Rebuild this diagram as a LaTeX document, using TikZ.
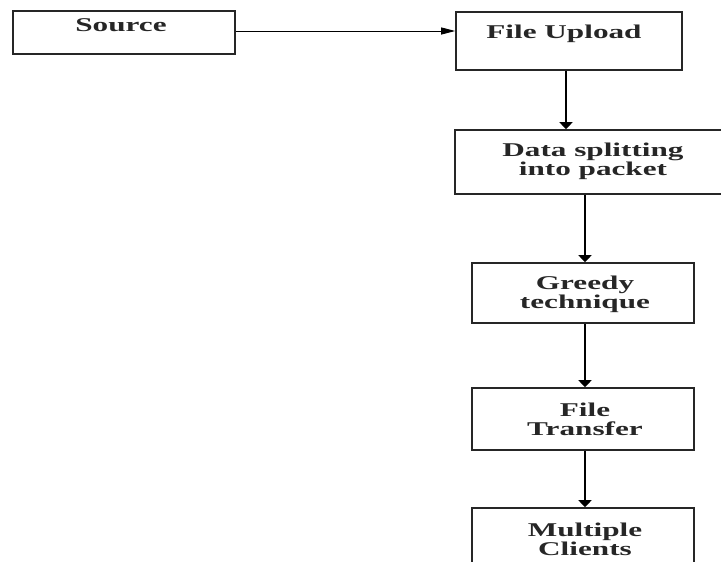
\documentclass[tikz,border=0pt]{standalone}
\usepackage{fontspec}
\newfontfamily\lblfont[FakeStretch=1.6]{Liberation Serif}
\usetikzlibrary{arrows.meta}
\begin{document}
\begin{tikzpicture}[x=1pt,y=-1pt,
  box/.style={draw=black!85,line width=1.6pt,rectangle,inner sep=0pt},
  lbl/.style={font=\lblfont\bfseries\fontsize{19.5}{19}\selectfont,align=center,inner sep=0pt,text=black!85},
  varrow/.style={line width=1.8pt,-{Triangle[length=7pt,width=13pt]}},
  harrow/.style={line width=1pt,-{Triangle[length=14pt,width=7pt]}}]
\useasboundingbox (0,0) rectangle (721,562);
\clip (0,0) rectangle (721,562);
\node[box,minimum width=222pt,minimum height=43pt] (src) at (124,32.5) {};
\node[lbl] (srct) at (121,25.5) {Source};
\node[box,minimum width=226pt,minimum height=58pt] (fu) at (569,41) {};
\node[lbl] (fut) at (564,34) {File Upload};
\node[box,minimum width=275pt,minimum height=64pt] (ds) at (592.5,162) {};
\node[lbl] (dst) at (593,161.5) {Data splitting\\into packet};
\node[box,minimum width=222pt,minimum height=60pt] (gr) at (583,293) {};
\node[lbl] (grt) at (585,294) {Greedy\\technique};
\node[box,minimum width=222pt,minimum height=62pt] (ft) at (583,419) {};
\node[lbl] (ftt) at (585,419) {File\\Transfer};
\node[box,minimum width=222pt,minimum height=66pt] (mc) at (583,541) {};
\node[lbl] (mct) at (585,539) {Multiple\\Clients};
\draw[harrow] ([yshift=1.5pt]src.east) -- ([yshift=1.5pt]src.east -| fu.west);
\draw[varrow] ([xshift=-3pt]fu.south) -- ([xshift=-3pt]fu.south |- ds.north);
\draw[varrow] ([xshift=2pt]gr.north |- ds.south) -- ([xshift=2pt]gr.north);
\draw[varrow] ([xshift=2pt]gr.south) -- ([xshift=2pt]ft.north);
\draw[varrow] ([xshift=2pt]ft.south) -- ([xshift=2pt]mc.north);
\end{tikzpicture}
\end{document}
